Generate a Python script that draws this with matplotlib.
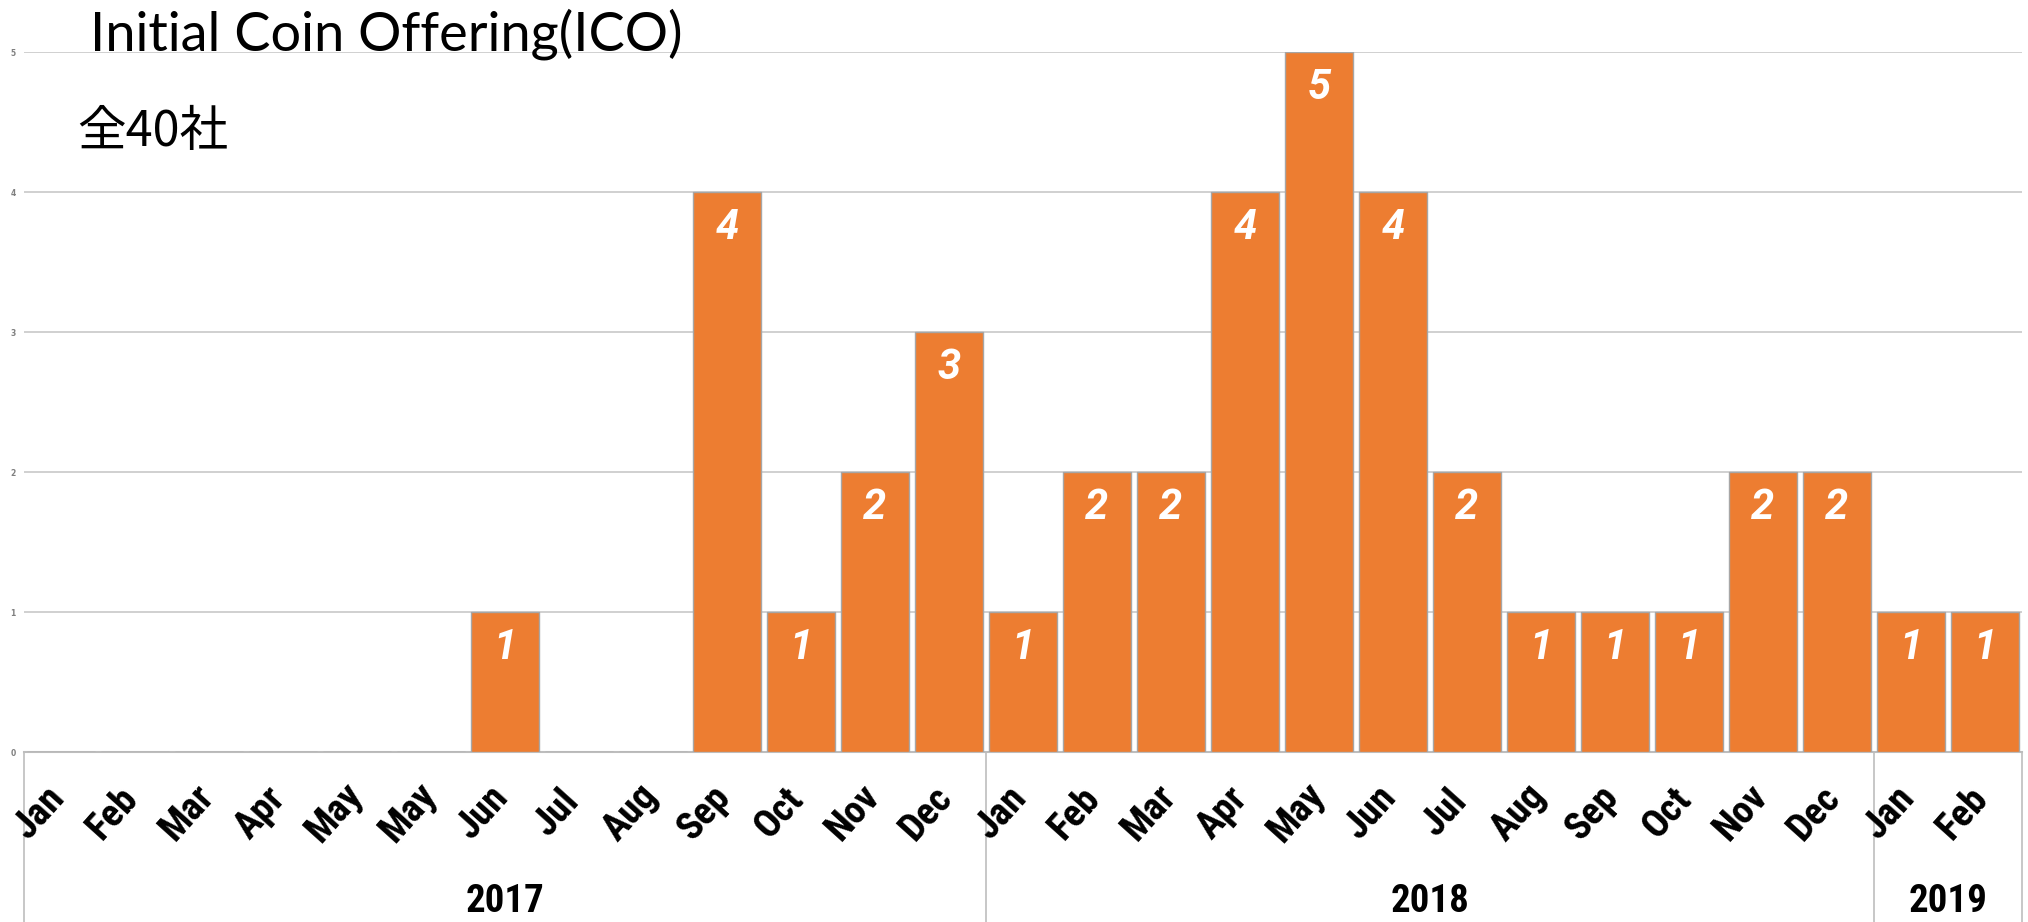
import numpy as np
import matplotlib
matplotlib.use("Agg")
import matplotlib.pyplot as plt

# ================= DATA =================
months = ['Jan', 'Feb', 'Mar', 'Apr', 'May', 'May', 'Jun', 'Jul', 'Aug', 'Sep', 'Oct', 'Nov', 'Dec',
          'Jan', 'Feb', 'Mar', 'Apr', 'May', 'Jun', 'Jul', 'Aug', 'Sep', 'Oct', 'Nov', 'Dec',
          'Jan', 'Feb']
counts = [0, 0, 0, 0, 0, 0, 1, 0, 0, 4, 1, 2, 3,
          1, 2, 2, 4, 5, 4, 2, 1, 1, 1, 2, 2,
          1, 1]
years = ['2017', '2018', '2019']
year_sizes = [13, 12, 2]

title = 'Initial Coin Offering(ICO)'
subtitle = '全40社'

# ================= STYLE =================
bar_color = '#ED7D31'
edge_color = '#A6A6A6'
grid_color = '#C4C4C4'
narrow = ['Roboto Condensed', 'Liberation Sans Narrow', 'Liberation Sans']

W, H = 2028, 922
fig = plt.figure(figsize=(W / 100, H / 100), dpi=100)
# axes box in pixels: x 24..2022, y 52..752 (from top)
ax = fig.add_axes([24 / W, (H - 752) / H, (2022 - 24) / W, (752 - 52) / H])

x = np.arange(len(counts))
bars = ax.bar(x, counts, width=0.926, color=bar_color, edgecolor=edge_color,
              linewidth=1.0, zorder=3)

ax.set_xlim(-0.5, len(counts) - 0.5)
ax.set_ylim(0, 5)
ax.set_yticks(range(6))
ax.set_yticklabels([str(v) for v in range(6)], fontsize=5.5, color='#7F7F7F',
                   fontweight='bold')
ax.tick_params(axis='y', length=0, pad=6)
ax.tick_params(axis='x', length=0, labelbottom=False)
ax.yaxis.grid(True, color=grid_color, linewidth=1.1, zorder=0)
for s in ['top', 'right', 'left']:
    ax.spines[s].set_visible(False)
ax.spines['bottom'].set_color('#BDBDBD')
ax.spines['bottom'].set_linewidth(1.5)

# value labels inside bars
for xi, v in zip(x, counts):
    if v > 0:
        ax.annotate(str(v), xy=(xi, v), xytext=(0, -34), textcoords='offset points',
                    ha='center', va='baseline', color='white', fontsize=30,
                    fontweight='bold', fontstyle='italic',
                    family=['Roboto', 'DejaVu Sans'], zorder=4)

# month labels (rotated)
trans = ax.get_xaxis_transform()
for xi, m in zip(x, months):
    t = ax.text(xi - 0.3, -0.087, m, transform=trans,
                ha='center', va='center', rotation=48, fontsize=28,
                fontweight='bold', family=narrow)
    t.set_clip_on(False)

# year groups and separators
edges = np.concatenate([[0], np.cumsum(year_sizes)]) - 0.5
for e in edges:
    ax.plot([e, e], [0, -0.3], transform=trans, color='#BDBDBD', linewidth=1.2,
            clip_on=False, zorder=1)
for i, yr in enumerate(years):
    cx = (edges[i] + edges[i + 1]) / 2
    ax.text(cx, -0.213, yr, transform=trans, ha='center', va='center',
            fontsize=28, fontweight='bold', family=narrow)

# titles
fig.text(90 / W, 1 - 50 / H, title, ha='left', va='baseline', fontsize=39,
         family=['Lato', 'DejaVu Sans'], color='black')
fig.text(77 / W, 1 - 146 / H, subtitle, ha='left', va='baseline', fontsize=35,
         family=['Noto Sans CJK JP', 'DejaVu Sans'])

fig.savefig('out.png', dpi=100)
